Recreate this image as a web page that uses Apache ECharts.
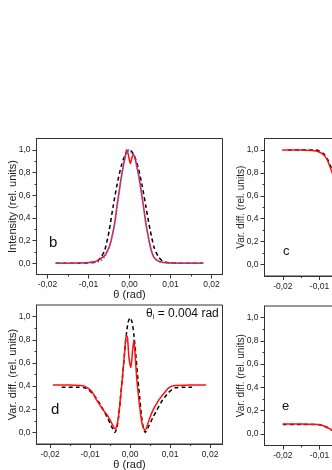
<!DOCTYPE html>
<html><head><meta charset="utf-8">
<script src="https://cdn.jsdelivr.net/npm/echarts@6/dist/echarts.min.js"></script>
<style>html,body{margin:0;padding:0;background:#fff}#c{width:332px;height:470px}</style>
</head><body><div id="c"></div>
<script>
// ---- tick values ----
var xMajorTicks = [-0.02, -0.01, 0, 0.01, 0.02];
var xMinorTicks = [-0.015, -0.005, 0.005, 0.015];
var yMajorTicks = [0, 0.2, 0.4, 0.6, 0.8, 1.0];
var yMinorTicks = [0.1, 0.3, 0.5, 0.7, 0.9];

// ---- panel b: intensity ----
var bDashX = [-0.018,-0.012,-0.010,-0.009,-0.008,-0.007,-0.006,-0.005,-0.004,-0.003,-0.002,-0.001,0,0.001,0.002,0.003,0.004,0.005,0.006,0.007,0.008,0.009,0.010,0.012,0.018];
var bDashY = [0,0,0.002,0.005,0.015,0.05,0.12,0.28,0.5,0.7,0.86,0.96,1.0,0.96,0.86,0.7,0.5,0.3,0.14,0.06,0.02,0.008,0.003,0,0];
var bRedX = [-0.018,-0.014,-0.011,-0.009,-0.008,-0.007,-0.006,-0.005,-0.0045,-0.004,-0.0035,-0.003,-0.0025,-0.002,-0.0015,-0.001,-0.0007,-0.0003,0.0002,0.0006,0.0009,0.0013,0.002,0.0025,0.003,0.0035,0.004,0.0045,0.005,0.0055,0.006,0.007,0.008,0.009,0.011,0.018];
var bRedY = [0,0,0.003,0.01,0.02,0.04,0.07,0.14,0.2,0.28,0.38,0.52,0.64,0.76,0.86,0.95,1.0,0.96,0.88,0.93,0.96,0.93,0.82,0.72,0.6,0.48,0.35,0.25,0.16,0.09,0.05,0.02,0.008,0.003,0,0];
var bBlueX = [-0.018,-0.012,-0.009,-0.008,-0.007,-0.006,-0.005,-0.004,-0.003,-0.002,-0.001,-0.0003,0.0005,0.001,0.002,0.003,0.004,0.005,0.006,0.007,0.008,0.010,0.018];
var bBlueY = [0,0,0.005,0.01,0.02,0.06,0.13,0.27,0.5,0.75,0.94,1.0,0.97,0.95,0.82,0.6,0.35,0.15,0.05,0.015,0.005,0,0];

// ---- panel c: variance difference ----
var cDashX = [-0.0186,-0.015,-0.012,-0.011,-0.010,-0.009,-0.008,-0.007,-0.006];
var cDashY = [1.0,1.0,1.0,1.0,0.99,0.97,0.93,0.86,0.77];
var cRedX = [-0.0202,-0.015,-0.012,-0.011,-0.010,-0.009,-0.008,-0.007,-0.006];
var cRedY = [1.0,1.0,0.995,0.99,0.98,0.96,0.92,0.84,0.75];

// ---- panel d: variance difference, theta_i = 0.004 rad ----
var dDashX = [-0.0171,-0.0133,-0.0114,-0.01045,-0.0095,-0.00855,-0.0076,-0.00665,-0.0057,-0.00475,-0.0043,-0.0038,-0.0033,-0.00285,-0.0024,-0.0019,-0.0014,-0.00095,-0.0005,0,0.0005,0.00095,0.0014,0.0019,0.0024,0.00285,0.0033,0.0038,0.0043,0.00475,0.0057,0.00665,0.0076,0.00855,0.0095,0.01045,0.0114,0.0133,0.0155];
var dDashY = [0.39,0.39,0.385,0.37,0.34,0.30,0.25,0.19,0.13,0.06,0.03,0.0,0.04,0.14,0.30,0.48,0.68,0.84,0.95,0.99,0.95,0.84,0.68,0.48,0.30,0.14,0.04,0.0,0.03,0.06,0.13,0.19,0.25,0.30,0.34,0.37,0.385,0.39,0.39];
var dRedX = [-0.0193,-0.0152,-0.0124,-0.0114,-0.01045,-0.0095,-0.00855,-0.0076,-0.00665,-0.0057,-0.00475,-0.0043,-0.0038,-0.0033,-0.00285,-0.0024,-0.0019,-0.0014,-0.00095,-0.00065,-0.0003,0.0002,0.0006,0.00095,0.0012,0.0017,0.0024,0.00285,0.0033,0.0038,0.0043,0.00475,0.0057,0.00665,0.0076,0.00855,0.0095,0.01045,0.0114,0.0152,0.019];
var dRedY = [0.41,0.41,0.405,0.40,0.38,0.35,0.29,0.24,0.19,0.15,0.09,0.06,0.03,0.06,0.15,0.30,0.48,0.68,0.84,0.82,0.65,0.56,0.70,0.80,0.70,0.45,0.22,0.10,0.04,0.02,0.06,0.11,0.19,0.25,0.30,0.34,0.38,0.40,0.405,0.41,0.41];

// ---- panel e: variance difference ----
var eDashX = [-0.02,-0.015,-0.012,-0.010,-0.009,-0.008,-0.007,-0.006];
var eDashY = [0.08,0.08,0.08,0.078,0.07,0.058,0.04,0.02];
var eRedX = [-0.02,-0.015,-0.012,-0.010,-0.009,-0.008,-0.007,-0.006];
var eRedY = [0.085,0.085,0.083,0.08,0.07,0.055,0.04,0.025];

// ---- texts ----
var yNameB = 'Intensity (rel. units)';
var yNameVar = 'Var. diff. (rel. units)';
var xName = 'θ (rad)';

function pairs(xs, ys){ return xs.map(function(x,i){ return [x, ys[i]]; }); }
var FONT = 'Liberation Sans, Arial, sans-serif';
var AX = '#333';

var grids = [
  {left:36.5, top:138.5, width:186, height:136},   // b
  {left:264.5, top:138.5, width:183.5, height:137.5}, // c
  {left:36.5, top:305, width:186, height:139},     // d
  {left:264.5, top:306, width:183.5, height:139.5} // e
];
var xRanges = [[-0.0227,0.0227],[-0.025,0.025],[-0.0234,0.0231],[-0.025,0.025]];
var yNames = [yNameB, yNameVar, yNameVar, yNameVar];
var xNames = [xName, '', xName, ''];
var yNameSize = [11, 10, 11, 10];
var yNameGap = [18, 18, 18, 18];

function fmtX(v){ var s = Math.abs(v).toFixed(2).replace('.', ','); return (v < -1e-9 ? '-' : '') + s; }
function fmtY(v){ return v.toFixed(1).replace('.', ','); }

var xAxes = [], yAxes = [];
grids.forEach(function(g, i){
  g.show = true; g.borderColor = AX; g.borderWidth = 1; g.containLabel = false; g.outerBoundsMode = 'none';
  xAxes.push({type:'value', gridIndex:i, position:'bottom', min:xRanges[i][0], max:xRanges[i][1],
    name:xNames[i], nameLocation:'middle', nameGap:15, nameMoveOverlap:false,
    nameTextStyle:{fontFamily:FONT, fontSize:11, color:'#222'},
    axisLine:{show:true, onZero:false, lineStyle:{color:AX, width:1}},
    axisTick:{show:true, length:4, customValues:xMajorTicks, lineStyle:{color:AX}},
    axisLabel:{show:true, customValues:xMajorTicks, formatter:fmtX, margin:6, fontFamily:FONT, fontSize:8.5, color:'#222'},
    splitLine:{show:false}});
  xAxes.push({type:'value', gridIndex:i, position:'bottom', min:xRanges[i][0], max:xRanges[i][1],
    axisLine:{show:false, onZero:false},
    axisTick:{show:true, length:2, customValues:xMinorTicks, lineStyle:{color:AX}},
    axisLabel:{show:false}, splitLine:{show:false}});
  yAxes.push({type:'value', gridIndex:i, position:'left', min:-0.1, max:1.1,
    name:yNames[i], nameLocation:'middle', nameGap:yNameGap[i], nameRotate:90, nameMoveOverlap:false,
    nameTextStyle:{fontFamily:FONT, fontSize:yNameSize[i], color:'#222'},
    axisLine:{show:true, onZero:false, lineStyle:{color:AX, width:1}},
    axisTick:{show:true, length:4, customValues:yMajorTicks, lineStyle:{color:AX}},
    axisLabel:{show:true, customValues:yMajorTicks, formatter:fmtY, margin:6, fontFamily:FONT, fontSize:8.5, color:'#222'},
    splitLine:{show:false}});
  yAxes.push({type:'value', gridIndex:i, position:'left', min:-0.1, max:1.1,
    axisLine:{show:false, onZero:false},
    axisTick:{show:true, length:2, customValues:yMinorTicks, lineStyle:{color:AX}},
    axisLabel:{show:false}, splitLine:{show:false}});
});

function line(panel, xs, ys, kind){
  var st;
  if (kind === 'red') st = {color:'#ff1010', width:1.5, type:'solid'};
  else if (kind === 'dash') st = {color:'#000', width:1.5, type:[4,3]};
  else st = {color:'#4a6cff', width:1.5, type:[1.5,2]};
  return {type:'line', xAxisIndex:panel*2, yAxisIndex:panel*2, data:pairs(xs, ys),
    showSymbol:false, smooth:0.25, lineStyle:st, itemStyle:{color:st.color},
    silent:true, animation:false, z: kind==='red'?3:(kind==='dash'?2:4)};
}

var series = [
  line(0, bDashX, bDashY, 'dash'),
  line(0, bRedX, bRedY, 'red'),
  line(0, bBlueX, bBlueY, 'blue'),
  line(1, cDashX, cDashY, 'dash'),
  line(1, cRedX, cRedY, 'red'),
  line(2, dDashX, dDashY, 'dash'),
  line(2, dRedX, dRedY, 'red'),
  line(3, eRedX, eRedY, 'red'),
  line(3, eDashX, eDashY, 'dash')
];

var chart = echarts.init(document.getElementById('c'), null, {renderer:'canvas'});
chart.setOption({
  animation:false,
  backgroundColor:'#fff',
  grid:grids, xAxis:xAxes, yAxis:yAxes, series:series,
  graphic:[
    {type:'text', left:49, top:235, style:{text:'b', font:'15px Liberation Sans, Arial', fill:'#111'}},
    {type:'text', left:283, top:245, style:{text:'c', font:'13px Liberation Sans, Arial', fill:'#111'}},
    {type:'text', left:51, top:402, style:{text:'d', font:'15px Liberation Sans, Arial', fill:'#111'}},
    {type:'text', left:282, top:400, style:{text:'e', font:'13px Liberation Sans, Arial', fill:'#111'}},
    {type:'text', left:146, top:308, style:{
      text:'{a|θ}{s|i}{a| = 0.004 rad}',
      rich:{a:{fontFamily:FONT, fontSize:12, fill:'#111', color:'#111'},
            s:{fontFamily:FONT, fontSize:7.5, fill:'#111', color:'#111', padding:[6,0,0,0]}}}}
  ]
});
</script></body></html>
